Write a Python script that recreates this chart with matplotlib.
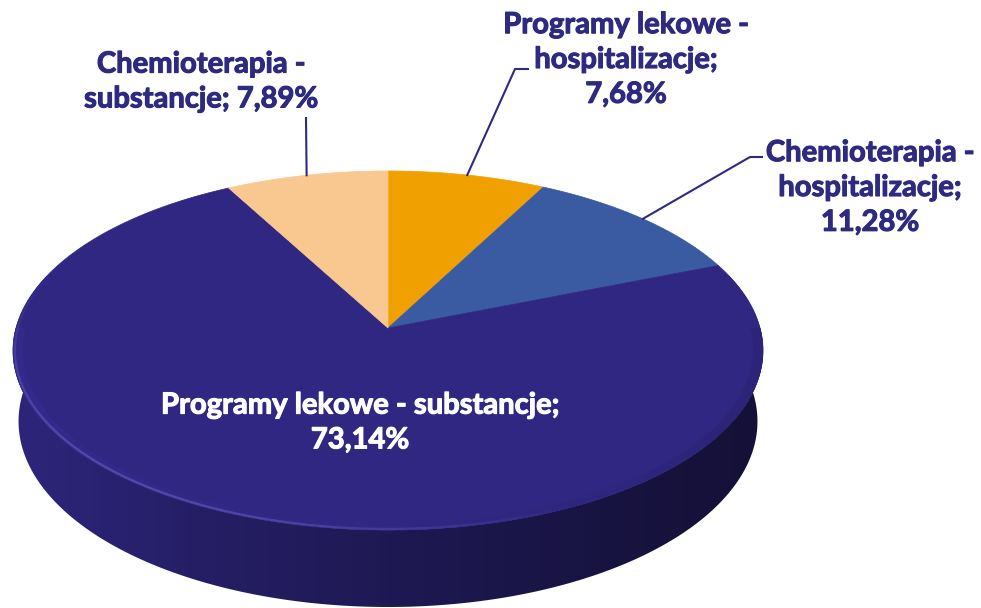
import numpy as np
import matplotlib
matplotlib.use("Agg")
import matplotlib.pyplot as plt
from matplotlib.patches import Polygon
from matplotlib.collections import LineCollection
import matplotlib.patheffects as pe

# data
categories = ["Programy lekowe - hospitalizacje", "Chemioterapia - hospitalizacje",
              "Programy lekowe - substancje", "Chemioterapia - substancje"]
shares = [7.68, 11.28, 73.14, 7.89]
label_texts = ["Programy lekowe -\nhospitalizacje;\n7,68%",
               "Chemioterapia -\nhospitalizacje;\n11,28%",
               "Programy lekowe - substancje;\n73,14%",
               "Chemioterapia -\nsubstancje; 7,89%"]
colors = ["#F0A000", "#3A5AA2", "#302782", "#F8C890"]

# label layout (pixel coords), leader elbow points (None = label inside slice)
label_pos = [(626, 60), (870, 188), (360, 423), (201, 82)]
leader_elbow = [[(515, 69), (528, 69)], [(750, 157), (762, 157)], None, [(306, 118)]]

# perspective camera for the 3d disk
cx, cy = 388, 328
k, d = 2608.0, 7.01
phi = np.arcsin(0.475)
s, c = np.sin(phi), np.cos(phi)
h = 0.218  # thickness


def proj(theta, r=1.0, z=0.0):
    # theta clockwise from far point
    X = r * np.sin(theta)
    Y = -r * np.cos(theta)
    depth = d - (Y * c + z * s)
    ycam = -Y * s + z * c
    return cx + k * X / depth, cy - k * ycam / depth


fig = plt.figure(figsize=(9.81, 6.08), dpi=100)
ax = fig.add_axes([0, 0, 1, 1])
ax.set_xlim(0, 981)
ax.set_ylim(608, 0)
ax.axis("off")

navy = np.array([0x30, 0x27, 0x82]) / 255.0

# side wall: one polygon filled with a left-to-right gradient
ts = np.linspace(np.pi * 0.4, np.pi * 1.6, 400)
tx, ty = proj(ts)
bx, by = proj(ts[::-1], z=-h)
side = Polygon(list(zip(tx, ty)) + list(zip(bx, by)), closed=True,
               facecolor="none", edgecolor="none")
ax.add_patch(side)
gx = np.arange(981)
f = np.interp(gx, [10, 200, 400, 600, 770], [0.95, 0.78, 0.63, 0.5, 0.42])
grad = np.clip(navy[None, None, :] * f[None, :, None], 0, 1)
grad = np.repeat(grad, 2, axis=0)
im = ax.imshow(grad, extent=(0, 981, 608, 0), aspect="auto", interpolation="bilinear", zorder=1)
im.set_clip_path(side)

# top faces
total = sum(shares)
bounds = np.cumsum([0] + shares) / total * 2 * np.pi
for i in range(len(shares)):
    t = np.linspace(bounds[i], bounds[i + 1], 200)
    px, py = proj(t)
    pts = [(cx, cy)] + list(zip(px, py))
    ax.add_patch(Polygon(pts, closed=True, facecolor=colors[i], edgecolor=colors[i],
                         lw=0.5, zorder=2))

# soft bevel on the front navy rim
t = np.linspace(np.pi * 0.5, np.pi * 1.5, 300)
for j in range(len(t) - 1):
    a0, a1 = t[j], t[j + 1]
    sm = -np.sin((a0 + a1) / 2)
    fb = 1.0 + 0.08 * sm
    col = np.clip(navy * fb, 0, 1)
    q = [proj(a0, 0.975), proj(a1, 0.975), proj(a1, 1.0), proj(a0, 1.0)]
    ax.add_patch(Polygon(q, closed=True, facecolor=col, edgecolor=col, lw=0.3, zorder=3))

# highlight along front-left edge
t = np.linspace(np.pi * 0.85, np.pi * 1.6, 200)
px, py = proj(t, 0.995)
segs = [[(px[j], py[j]), (px[j + 1], py[j + 1])] for j in range(len(t) - 1)]
alph = np.clip(np.sin((t[:-1] - np.pi * 0.85) / (0.75 * np.pi) * np.pi), 0, 1) * 0.5
lc = LineCollection(segs, colors=[(0.45, 0.42, 0.8, a) for a in alph], linewidths=1.6, zorder=4)
ax.add_collection(lc)

# labels and leader lines
txt_color = "#2E2A80"
fam = ["Lato", "DejaVu Sans"]
for i in range(len(shares)):
    mid = (bounds[i] + bounds[i + 1]) / 2
    col = txt_color
    if leader_elbow[i] is None:
        col = "white"
    else:
        sx, sy = proj(mid)
        xs = [sx] + [p[0] for p in leader_elbow[i]]
        ys = [sy] + [p[1] for p in leader_elbow[i]]
        ax.plot(xs, ys, color=txt_color, lw=1.5, zorder=5)
    ax.text(*label_pos[i], label_texts[i], ha="center", va="center", color=col,
            fontsize=21, fontweight="bold", family=fam, linespacing=1.42, zorder=6,
            path_effects=[pe.withStroke(linewidth=0.8, foreground=col)])

fig.savefig("out.png", dpi=100)
